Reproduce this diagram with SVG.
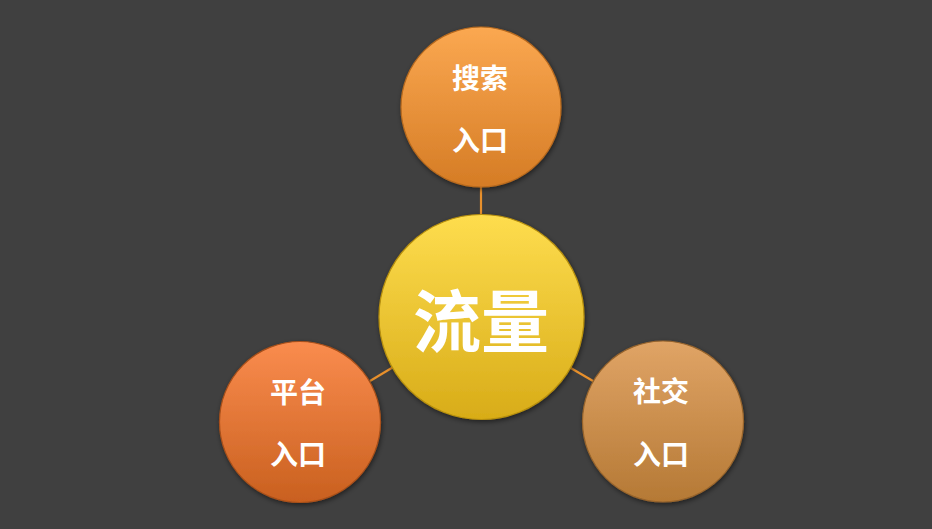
<svg xmlns="http://www.w3.org/2000/svg" width="932" height="529" viewBox="0 0 932 529">
<style>
.lbl{font-family:"Noto Sans CJK SC","Noto Sans CJK JP",sans-serif;font-weight:bold;fill:#ffffff;text-anchor:middle;dominant-baseline:central}
.s{font-size:28px}
.b{font-size:68px}
.conn{stroke:#E8902C;stroke-width:2.2;fill:none}
</style>
<defs>
<linearGradient id="gTop" x1="0" y1="0" x2="0" y2="1">
<stop offset="0" stop-color="#FBA851"/><stop offset="1" stop-color="#D57C25"/>
</linearGradient>
<linearGradient id="gCen" x1="0" y1="0" x2="0" y2="1">
<stop offset="0" stop-color="#FEDD4E"/><stop offset="1" stop-color="#D8AC18"/>
</linearGradient>
<linearGradient id="gLeft" x1="0" y1="0" x2="0" y2="1">
<stop offset="0" stop-color="#FA8C4E"/><stop offset="1" stop-color="#C9601F"/>
</linearGradient>
<linearGradient id="gRight" x1="0" y1="0" x2="0" y2="1">
<stop offset="0" stop-color="#E0A466"/><stop offset="1" stop-color="#B57935"/>
</linearGradient>
<filter id="sh" x="-20%" y="-20%" width="140%" height="140%">
<feGaussianBlur in="SourceAlpha" stdDeviation="2.5"/>
<feOffset dx="1" dy="2" result="o"/>
<feComponentTransfer><feFuncA type="linear" slope="0.5"/></feComponentTransfer>
<feMerge><feMergeNode/><feMergeNode in="SourceGraphic"/></feMerge>
</filter>
</defs>
<rect width="932" height="529" fill="#404040"/>
<g id="connectors">
<line class="conn" x1="481" y1="186" x2="481" y2="216"/>
<line class="conn" x1="370" y1="381" x2="395" y2="366"/>
<line class="conn" x1="569" y1="367" x2="593" y2="381"/>
</g>
<g id="node-search">
<circle cx="481" cy="107" r="80" fill="url(#gTop)" stroke="#B86A1E" stroke-width="1.2" filter="url(#sh)"/>
<text class="lbl s" x="480" y="77">搜索</text>
<text class="lbl s" x="480" y="139">入口</text>
</g>
<g id="node-traffic">
<circle cx="481.5" cy="317" r="102.5" fill="url(#gCen)" stroke="#B8900E" stroke-width="1.2" filter="url(#sh)"/>
<text class="lbl b" x="481" y="317">流量</text>
</g>
<g id="node-platform">
<circle cx="300" cy="422" r="80.5" fill="url(#gLeft)" stroke="#A9501A" stroke-width="1.2" filter="url(#sh)"/>
<text class="lbl s" x="298" y="391">平台</text>
<text class="lbl s" x="298" y="453">入口</text>
</g>
<g id="node-social">
<circle cx="663" cy="421.5" r="80.5" fill="url(#gRight)" stroke="#97642C" stroke-width="1.2" filter="url(#sh)"/>
<text class="lbl s" x="661" y="390">社交</text>
<text class="lbl s" x="661" y="453">入口</text>
</g>
</svg>
